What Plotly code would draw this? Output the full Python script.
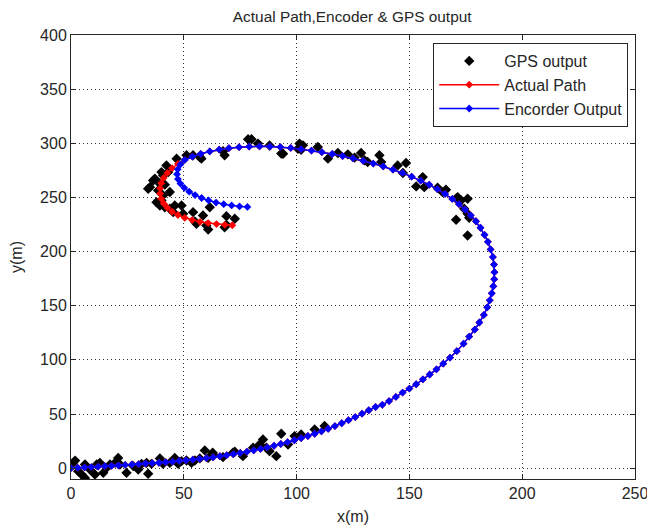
import plotly.graph_objects as go

# Actual path (x, y)
actual_x = [0, 3, 6, 9, 12, 15, 18, 21, 24, 27, 30, 33, 36, 39, 42, 45, 48, 51, 54, 57,
            60, 63, 66, 69, 72, 75, 78, 81, 84, 87, 90, 93, 96, 99, 102, 105, 108, 111, 114, 117,
            120, 123, 126, 129, 132, 135, 138, 141, 144, 147, 150, 153, 156, 159, 162, 165, 168, 171, 174, 176.5,
            179, 181, 183, 184.5, 185.6, 186.5, 187.2, 187.6, 187.7, 187.5, 187, 186, 184.8, 183.3, 181.5, 179.5, 177.2, 174.7, 172, 169,
            165.8, 162.4, 158.8, 155, 151, 146.9, 142.7, 138.4, 134, 129.5, 125, 120.4, 115.8, 111.2, 106.6, 102, 97.4, 92.8, 88.2, 83.6,
            79, 74.5, 70, 65.7, 61.5, 57.5, 53.8, 50.4, 47.4, 44.8, 42.7, 41.1, 40, 39.5, 39.5, 40, 41.1, 42.7, 44.8, 47.4,
            50.4, 53.7, 57.2, 60.8, 64.5, 68.2, 71.5]
actual_y = [0, 0.3, 0.7, 1, 1.4, 1.8, 2.2, 2.6, 3, 3.4, 3.8, 4.2, 4.6, 5, 5.5, 6, 6.6, 7.2, 7.8, 8.5,
            9.3, 10.1, 11, 12, 13, 14, 15.2, 16.5, 17.8, 19.2, 20.7, 22.3, 24, 25.8, 27.7, 29.7, 31.8, 34, 36.4, 38.9,
            41.5, 44.3, 47.2, 50.3, 53.5, 56.5, 58.5, 62, 65.8, 69.8, 73.5, 77.5, 82, 86.5, 91.3, 96.5, 102, 108, 115, 121.5,
            128, 134.5, 141.5, 148.5, 155, 161.5, 168, 174.5, 181, 188, 195, 202, 209, 215.5, 222, 228, 233.5, 238.8, 243.8, 248.6,
            253.2, 257.6, 261.7, 265.6, 269.2, 272.6, 275.7, 278.6, 281.3, 283.8, 286.1, 288.2, 290.1, 291.8, 293.3, 294.6, 295.7, 296.5, 297, 297.2,
            297, 296.4, 295.5, 294.2, 292.5, 290.3, 287.7, 284.6, 281, 277, 272.6, 268, 263.2, 258.4, 253.6, 248.9, 244.5, 240.5, 236.9, 233.8,
            231.2, 229.1, 227.5, 226.3, 225.4, 224.7, 224.3]

# Encoder output: follows the actual path, then drifts inward at the end
enc_shared = 108
enc_tail_x = [48.5, 47.3, 47, 47.4, 48.5, 50.2, 52.4, 55, 57.9, 61, 64.3, 67.7, 71.2, 74.7, 78.2]
enc_tail_y = [280.5, 276, 271.5, 267, 262.8, 258.9, 255.3, 252.2, 249.5, 247.2, 245.3, 243.8, 242.6, 241.7, 241.2]
enc_x = actual_x[:enc_shared] + enc_tail_x
enc_y = actual_y[:enc_shared] + enc_tail_y

# GPS output
gps_x = [1.8, 3.2, 4.7, 6.2, 6.2, 8.4, 10.6, 11.4, 12.8, 14.3, 15.8, 17.3, 19.5, 20.9, 21.7, 24.6, 27.6, 29.8,
         31.3, 33.5, 34.2, 35.7, 39.4, 40.8, 43.8, 46, 47.5, 49, 51.2, 53.4, 54.9, 57.1, 59.3, 60.8, 63, 1.0,
         62.8, 67.4, 71.8, 76.2, 80.7, 83.6, 85.1, 86.6, 88, 91, 93.2, 96.2, 99.1, 102, 108, 112.4, 72.6, 84.4,
         78.5, 80, 82.9, 88, 93.2, 67.4, 68.1, 57.1, 57.8, 54.1, 51.2, 46.8, 42.3, 43.1, 40.1, 40.8, 37.2, 39.4,
         41.6, 35, 34.2, 38.6, 43.8, 40.8, 40.1, 39.4, 41.6, 43.8, 46, 49, 45.3, 61.5, 58.5, 54.9, 55.6, 60,
         60.8, 68.9, 72.6, 68.9, 36.4, 37.9, 49.7, 54.1, 68.1,
         101.3, 102.8, 100.6, 102, 94, 109.4, 113.9, 118.3, 122.7, 125.7, 128.6, 130.1, 131.5, 136.7, 137.5, 144.8,
         147.1, 148.5, 153, 155.9, 156.6, 162.5, 164.7, 166.2, 171.4, 172.9, 175.8, 174.3, 175.8, 176.5, 170.7, 175.8, 170.7]
gps_y = [7, -2.8, -5.9, -9, 3.4, -1.2, -5.9, 3.4, 4.9, -4.3, 0.3, 3.4, 4.9, 9.5, 3.4, -4.3, 1.9, -1.2,
         4, 4.9, -5.2, 4, 9, 4, 4.9, 9.5, 4, 6.5, 7.1, 4.9, 7.1, 9, 16.4, 9.5, 12.7, 5,
         14.2, 10.2, 14.2, 11.1, 18.8, 21.9, 26.5, 18.8, 15.7, 11.1, 31.8, 21.9, 29.6, 31.2, 35.8, 38.9, 15.1, 20.4,
         303.7, 303.7, 299.7, 298, 290.5, 292.6, 289, 287.3, 285.8, 288.9, 288.9, 285.8, 279.6, 273.4, 273.4, 270.4, 267.3, 262.7,
         261.8, 259.5, 258, 256.5, 255, 251.9, 247.2, 242.6, 241, 239.5, 242.6, 242.6, 236.4, 241, 233.3, 227.8, 225.6, 224,
         220.4, 232.7, 230.3, 224.7, 265.7, 245.6, 234.9, 236.4, 222.5,
         299.7, 298.1, 295, 294.1, 290.4, 296.6, 285.8, 291, 289.8, 286.8, 291, 284.3, 282.7, 288.9, 282.7, 279.6,
         272.5, 281.8, 260.2, 268.8, 259.5, 258.9, 254.9, 257.1, 250.3, 247.2, 248.8, 239.5, 234.9, 231.2, 229.4, 214.8, 248.8]

x_ticks = [0, 50, 100, 150, 200, 250]
y_ticks = [0, 50, 100, 150, 200, 250, 300, 350, 400]

fig = go.Figure()
fig.add_trace(go.Scatter(x=gps_x, y=gps_y, mode="markers", name="GPS output",
                         marker=dict(symbol="diamond", size=8, color="black")))
fig.add_trace(go.Scatter(x=actual_x, y=actual_y, mode="lines+markers", name="Actual Path",
                         line=dict(color="red", width=1.5),
                         marker=dict(symbol="diamond", size=6, color="red")))
fig.add_trace(go.Scatter(x=enc_x, y=enc_y, mode="lines+markers", name="Encorder Output",
                         line=dict(color="blue", width=1.5),
                         marker=dict(symbol="diamond", size=6, color="blue")))

axis_common = dict(showline=True, linecolor="#262626", linewidth=1, mirror="allticks",
                   ticks="inside", ticklen=5, tickcolor="#262626", automargin=False,
                   showgrid=True, gridcolor="#333333", griddash="1px,3px", gridwidth=1,
                   zeroline=False, tickfont=dict(size=16, color="#262626"))

# the page body adds an 8px offset, so the figure is sized to compensate
fig.update_layout(
    width=647, height=519,
    margin=dict(l=63, r=20, t=27, b=48, autoexpand=False),
    paper_bgcolor="white", plot_bgcolor="white",
    font=dict(family="Liberation Sans, Arial, sans-serif", size=16, color="#262626"),
    title=dict(text="Actual Path,Encoder & GPS output", x=0.532, xanchor="center",
               y=0.983, yanchor="middle", font=dict(size=15.4)),
    xaxis=dict(range=[0, 250], tickvals=x_ticks,
               title=dict(text="x(m)", standoff=9, font=dict(size=16)), **axis_common),
    yaxis=dict(range=[-10, 400], tickvals=y_ticks,
               title=dict(text="y(m)", standoff=13, font=dict(size=16)), **axis_common),
    legend=dict(x=0.988, y=0.982, xanchor="right", yanchor="top",
                bgcolor="white", bordercolor="#262626", borderwidth=1,
                font=dict(size=16), itemwidth=60, tracegroupgap=0),
    showlegend=True,
)

fig.write_html("out.html")
